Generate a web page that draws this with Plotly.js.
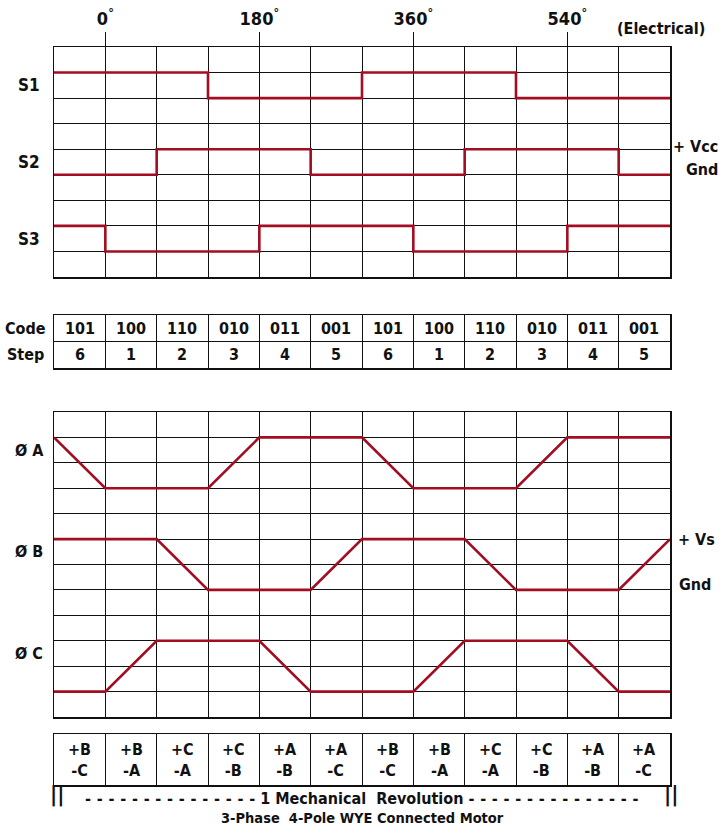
<!DOCTYPE html>
<html>
<head>
<meta charset="utf-8">
<script src="https://cdn.plot.ly/plotly-3.0.1.min.js"></script>
<style>
html,body{margin:0;padding:0;background:#fff}
#chart{width:722px;height:838px}
#chart svg text{font-stretch:condensed !important;}
</style>
</head>
<body>
<div id="chart"></div>
<script>
// ---- data ----
const codes = ["101","100","110","010","011","001","101","100","110","010","011","001"];
const steps = ["6","1","2","3","4","5","6","1","2","3","4","5"];
const commutation = ["+B<br>-C","+B<br>-A","+C<br>-A","+C<br>-B","+A<br>-B","+A<br>-C","+B<br>-C","+B<br>-A","+C<br>-A","+C<br>-B","+A<br>-B","+A<br>-C"];
const sensorNames = ["S1","S2","S3"];
const phaseNames = ["Ø A","Ø B","Ø C"];
// phase levels at column boundaries (1 = +Vs, 0 = Gnd)
const phaseA = [1,0,0,0,1,1,1,0,0,0,1,1,1];
const phaseB = [1,1,1,0,0,0,1,1,1,0,0,0,1];
const phaseC = [0,0,1,1,1,0,0,0,1,1,1,0,0];
const degreeTicks = [0,180,360,540];
const degreeLabels = ["0<sup>°</sup>","180<sup>°</sup>","360<sup>°</sup>","540<sup>°</sup>"];

// ---- layout helpers ----
const W = 722, H = 838;
const RED = "#A30D22";
const FONT = "'DejaVu Sans Condensed','DejaVu Sans',sans-serif";
const px = v => v / W;
const py = v => 1 - v / H;
const nCols = codes.length;
const colStart = i => -60 + 60 * i;
const xr = [-60, 660];
const xDom = [px(54), px(670)];

function xax(anchor) {
  return {domain: xDom, range: xr, anchor: anchor, tick0: 0, dtick: 60, showgrid: true,
    gridcolor: "#111", gridwidth: 1, showline: true, mirror: true, linecolor: "#111", linewidth: 1.5,
    zeroline: false, showticklabels: false, ticks: "", fixedrange: true};
}
function yax(top, bottom, n, anchor) {
  return {domain: [py(bottom), py(top)], range: [0, n], anchor: anchor, tick0: 0, dtick: 1,
    showgrid: true, gridcolor: "#111", gridwidth: 1, showline: true, mirror: true,
    linecolor: "#111", linewidth: 1.5, zeroline: false, showticklabels: false, ticks: "", fixedrange: true};
}

const traces = [];
// Hall sensor signals from code bits
const sensorBase = [7, 4, 1];
for (let s = 0; s < 3; s++) {
  const xs = [], ys = [];
  for (let i = 0; i < nCols; i++) {
    xs.push(colStart(i));
    ys.push(sensorBase[s] + Number(codes[i][s]));
  }
  xs.push(colStart(nCols));
  ys.push(ys[ys.length - 1]);
  traces.push({x: xs, y: ys, xaxis: "x", yaxis: "y", mode: "lines", line: {shape: "hv", color: RED, width: 2.6},
    hoverinfo: "skip", showlegend: false});
}
// Phase voltages
const phases = [phaseA, phaseB, phaseC];
const phaseBase = [9, 5, 1];
for (let p = 0; p < 3; p++) {
  traces.push({x: phases[p].map((v, i) => colStart(i)), y: phases[p].map(v => phaseBase[p] + 2 * v),
    xaxis: "x3", yaxis: "y3", mode: "lines", line: {color: RED, width: 2.6}, hoverinfo: "skip", showlegend: false});
}

const ann = [];
const bold = {family: FONT, size: 16, color: "#111", weight: "bold"};
const lbl = Object.assign({}, bold, {size: 17});
function A(o) { ann.push(Object.assign({showarrow: false, font: bold, xanchor: "center"}, o)); }

// table texts
for (let i = 0; i < nCols; i++) {
  A({x: colStart(i) + 30, y: 1.5, xref: "x2", yref: "y2", text: "<b>" + codes[i] + "</b>"});
  A({x: colStart(i) + 30, y: 0.5, xref: "x2", yref: "y2", text: "<b>" + steps[i] + "</b>"});
  A({x: colStart(i) + 30, y: 0.5, xref: "x4", yref: "y4", text: "<b>" + commutation[i] + "</b>"});
}
// left labels
[7.5, 4.5, 1.5].forEach((y, i) => A({x: px(29), xref: "paper", y: y, yref: "y", text: "<b>" + sensorNames[i] + "</b>", font: lbl}));
[10.5, 6.5, 2.5].forEach((y, i) => A({x: px(29), xref: "paper", y: y, yref: "y3", text: "<b>" + phaseNames[i] + "</b>"}));
A({x: px(25), xref: "paper", y: 1.5, yref: "y2", text: "<b>Code</b>"});
A({x: px(25), xref: "paper", y: 0.5, yref: "y2", text: "<b>Step</b>"});
// right labels
A({x: px(720), xref: "paper", xanchor: "right", y: 5.12, yref: "y", text: "<b>+ Vcc</b>"});
A({x: px(720), xref: "paper", xanchor: "right", y: 4.2, yref: "y", text: "<b>Gnd</b>"});
A({x: px(676), xref: "paper", xanchor: "left", y: 7.0, yref: "y3", text: "<b>+ Vs</b>"});
A({x: px(677), xref: "paper", xanchor: "left", y: 5.2, yref: "y3", text: "<b>Gnd</b>"});
A({x: px(661), xref: "paper", y: py(17), yref: "paper", text: "<b>(Electrical)</b>"});
// bottom
const dashes = Array(15).fill("-").join("\u2009\u2009");
const barFont = Object.assign({}, bold, {size: 22});
A({x: px(57), xref: "paper", y: py(809), yref: "paper", text: "<b>||</b>", font: barFont});
A({x: px(671), xref: "paper", y: py(809), yref: "paper", text: "<b>||</b>", font: barFont});
A({x: px(362), xref: "paper", y: py(810), yref: "paper",
   text: "<b>" + dashes + "\u00a01 Mechanical\u00a0\u00a0Revolution\u00a0" + dashes + "</b>"});
A({x: px(362), xref: "paper", y: py(828), yref: "paper", text: "<b>3-Phase\u00a0\u00a04-Pole WYE Connected Motor</b>",
   font: Object.assign({}, bold, {size: 14.5})});

const layout = {
  width: W, height: H, margin: {l: 0, r: 0, t: 0, b: 0}, paper_bgcolor: "#fff", plot_bgcolor: "#fff",
  showlegend: false,
  xaxis: xax("y"), yaxis: yax(47, 277, 9, "x"),
  xaxis2: xax("y2"), yaxis2: yax(315, 368, 2, "x2"),
  xaxis3: xax("y3"), yaxis3: yax(412, 717, 12, "x3"),
  xaxis4: xax("y4"), yaxis4: yax(734, 785, 1, "x4"),
  xaxis5: {domain: xDom, range: xr, overlaying: "x", anchor: "y", side: "top", tickmode: "array",
    tickvals: degreeTicks, ticktext: degreeLabels, ticks: "outside", ticklen: 14, tickwidth: 1.4, tickcolor: "#111",
    showgrid: false, zeroline: false, showline: false, fixedrange: true,
    tickfont: {family: FONT, size: 18, color: "#111", weight: "bold"}},
  annotations: ann
};
traces.push({x: [0], y: [0], xaxis: "x5", yaxis: "y", mode: "markers", marker: {opacity: 0}, hoverinfo: "skip", showlegend: false});
Plotly.newPlot("chart", traces, layout, {staticPlot: true, displayModeBar: false});
</script>
</body>
</html>
